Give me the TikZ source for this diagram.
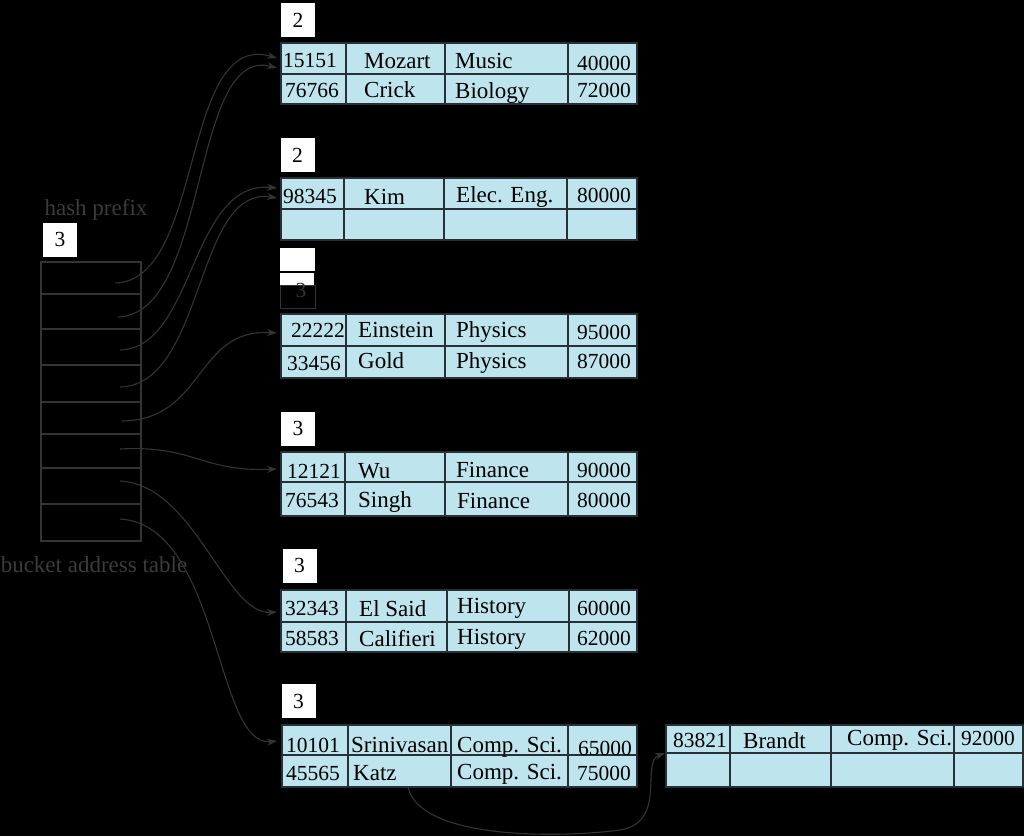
\documentclass[tikz,border=0pt]{standalone}
\usepackage{fontspec}
\setmainfont{Liberation Serif}
\usetikzlibrary{arrows.meta}
\definecolor{cellblue}{RGB}{190,228,238}
\definecolor{celledge}{RGB}{38,48,54}
\definecolor{dimline}{RGB}{52,52,52}
\definecolor{dimtext}{RGB}{60,60,60}
\newcommand{\tabfont}{\fontsize{21.5}{25}\selectfont}
\newcommand{\wordfont}{\fontsize{23}{27}\selectfont}
\newcommand{\bkgrid}[9]{%
  \filldraw[cell] (#2,#3) rectangle (#6,#5);
  \draw[cell,fill=none] (#2,#4) -- (#6,#4) (#7,#3) -- (#7,#5) (#8,#3) -- (#8,#5) (#9,#3) -- (#9,#5);
  \coordinate (#1) at (#2,#3);
}
\tikzset{
  cell/.style={fill=cellblue, draw=celledge, line width=1.4pt},
  txt/.style={anchor=base west, inner sep=0pt, font=\tabfont, text=black},
  wrd/.style={anchor=base west, inner sep=0pt, font=\wordfont, text=black},
  cnt/.style={fill=white, draw=none, inner sep=0pt, minimum width=34pt, minimum height=34pt, font=\tabfont, text=black},
  link/.style={draw=dimline, line width=1.1pt, -{Stealth[length=10pt,width=7pt]}},
  plain/.style={draw=dimline, line width=1.1pt},
  dim/.style={inner sep=0pt, font=\wordfont, text=dimtext, anchor=base},
}
\begin{document}
\begin{tikzpicture}[x=1pt,y=-1pt]
\fill[black] (0,0) rectangle (1024,836);
\useasboundingbox (0,0) rectangle (1024,836);

% bucket address table
\node[dim] (hp) at (96,215) {hash prefix};
\node[cnt] (hk) at (60,239.5) {3};
\draw[plain] (41,262) rectangle (141,541);
\foreach \yy in {294,329,365,402,434,468,504}
  \draw[plain] (41,\yy) -- (141,\yy);
\node[dim] (bat) at (94,572) {bucket address table};

% bucket 1
\node[cnt] (k1) at (298,20) {2};
\bkgrid{B1}{281}{43}{74}{104}{637}{346}{445}{568}
\node[txt] (a11) at (283,67) {15151};
\node[wrd] (a12) at (364,68) {Mozart};
\node[wrd] (a13) at (455,68) {Music};
\node[txt] (a14) at (577,70) {40000};
\node[txt] (a21) at (285,97) {76766};
\node[wrd] (a22) at (364,97) {Crick};
\node[wrd] (a23) at (455,98) {Biology};
\node[txt] (a24) at (577,97) {72000};

% bucket 2
\node[cnt] (k2) at (297.5,155) {2};
\bkgrid{B2}{281}{178}{209}{240}{637}{344}{444}{567}
\node[txt] (c11) at (283,203) {98345};
\node[wrd] (c12) at (364,204) {Kim};
\node[wrd] (c13) at (456,202) {Elec. Eng.};
\node[txt] (c14) at (577,202) {80000};

% bucket 3 (damaged header)
\draw[draw=dimline, line width=1pt] (280,285) rectangle (315,308);
\fill[white] (280,248) rectangle (315,271);
\fill[white] (280,272.5) rectangle (314,285);
\node[inner sep=0pt, font=\tabfont, text=dimline, anchor=base] (k3) at (301,297) {3};
\bkgrid{B3}{281}{314}{346}{378}{637}{346}{445}{568}
\node[txt] (d11) at (291,337) {22222};
\node[wrd] (d12) at (358,337) {Einstein};
\node[wrd] (d13) at (456,337) {Physics};
\node[txt] (d14) at (577,339) {95000};
\node[txt] (d21) at (287,370) {33456};
\node[wrd] (d22) at (358,368) {Gold};
\node[wrd] (d23) at (456,368) {Physics};
\node[txt] (d24) at (577,368) {87000};

% bucket 4
\node[cnt] (k4) at (298,428.5) {3};
\bkgrid{B4}{281}{452}{482}{516}{637}{345}{445}{568}
\node[txt] (e11) at (287,478) {12121};
\node[wrd] (e12) at (358,478) {Wu};
\node[wrd] (e13) at (456,477) {Finance};
\node[txt] (e14) at (577,477) {90000};
\node[txt] (e21) at (285,507) {76543};
\node[wrd] (e22) at (358,507) {Singh};
\node[wrd] (e23) at (457,508) {Finance};
\node[txt] (e24) at (577,507) {80000};

% bucket 5
\node[cnt] (k5) at (299.5,565.5) {3};
\bkgrid{B5}{281}{590}{622}{652}{637}{346}{447}{569}
\node[txt] (f11) at (285,615) {32343};
\node[wrd] (f12) at (359,616) {El Said};
\node[wrd] (f13) at (457,613) {History};
\node[txt] (f14) at (577,615) {60000};
\node[txt] (f21) at (285,645) {58583};
\node[wrd] (f22) at (359,646) {Califieri};
\node[wrd] (f23) at (457,644) {History};
\node[txt] (f24) at (577,645) {62000};

% bucket 6
\node[cnt] (k6) at (298.5,701) {3};
\bkgrid{B6}{282}{725}{755}{787}{637}{348}{451}{568}
\node[txt] (g11) at (286,752) {10101};
\node[wrd] (g12) at (351,752) {Srinivasan};
\node[wrd] (g13) at (457,752) {Comp. Sci.};
\node[txt] (g14) at (578,755) {65000};
\node[txt] (g21) at (286,780) {45565};
\node[wrd] (g22) at (353,780) {Katz};
\node[wrd] (g23) at (457,779) {Comp. Sci.};
\node[txt] (g24) at (577,780) {75000};

% overflow bucket
\bkgrid{B7}{666}{725}{753}{787}{1023}{730}{831}{954}
\node[txt] (h11) at (673,747) {83821};
\node[wrd] (h12) at (743,748) {Brandt};
\node[wrd] (h13) at (847,745) {Comp. Sci.};
\node[txt] (h14) at (961,745) {92000};

% pointer coordinates
\coordinate (s1) at (115,283);
\coordinate (s2) at (118,317);
\coordinate (s3) at (120,350);
\coordinate (s4) at (120,387);
\coordinate (s5) at (122,421);
\coordinate (s6) at (120,449);
\coordinate (s7) at (120,481);
\coordinate (s8) at (120,519);
\coordinate (t1) at (277,58);
\coordinate (t2) at (277,68);
\coordinate (t3) at (277,188);
\coordinate (t4) at (277,198);
\coordinate (t5) at (277,333);
\coordinate (t6) at (277,469);
\coordinate (t7) at (277,612);
\coordinate (t8) at (277,741);
\coordinate (ov) at (408,787);
\coordinate (ot) at (665,753);

\draw[link] (s1) .. controls (205,281) and (180,30) .. (t1);
\draw[link] (s2) .. controls (210,314) and (190,45) .. (t2);
\draw[link] (s3) .. controls (195,348) and (190,180) .. (t3);
\draw[link] (s4) .. controls (205,385) and (195,185) .. (t4);
\draw[link] (s5) .. controls (205,420) and (195,328) .. (t5);
\draw[link] (s6) .. controls (195,445) and (200,472) .. (t6);
\draw[link] (s7) .. controls (195,485) and (225,615) .. (t7);
\draw[link] (s8) .. controls (220,525) and (215,748) .. (t8);
\draw[link] (ov) .. controls (420,840) and (560,838) .. (620,830) .. controls (668,822) and (640,762) .. (ot);
\end{tikzpicture}
\end{document}
